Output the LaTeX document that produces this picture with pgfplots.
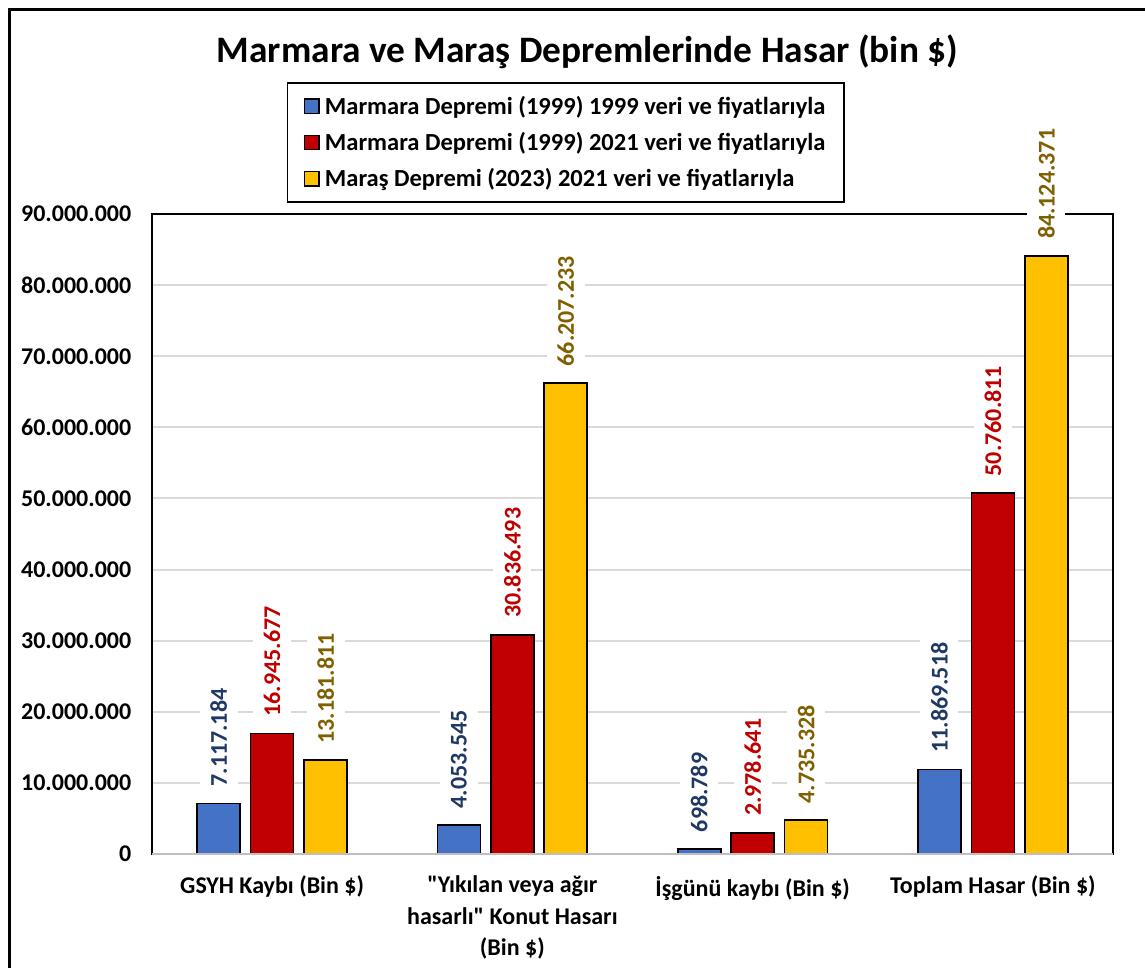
\documentclass[border=0pt]{standalone}
\usepackage{fontspec}
\setmainfont{Carlito}[Ligatures=TeXOff]
\usepackage{pgfplots}
\pgfplotsset{compat=1.18}
\definecolor{cblue}{HTML}{4472C4}
\definecolor{cred}{HTML}{C00000}
\definecolor{cgold}{HTML}{FFC000}
\definecolor{lblue}{HTML}{203864}
\definecolor{lred}{HTML}{C00000}
\definecolor{lgold}{HTML}{7F6000}
\definecolor{gridgray}{HTML}{D9D9D9}
\definecolor{axgray}{HTML}{BFBFBF}
\pgfplotsset{
  vlab/.style={every node near coord/.append style={
    font=\bfseries\fontsize{18}{22}\selectfont, text=#1, fill=white, draw=none,
    yshift=8pt, rotate=90, anchor=west, inner xsep=4pt, inner ysep=8pt}}
}
\begin{document}
\begin{tikzpicture}[x=0.75pt,y=0.75pt]
\path[use as bounding box, fill=white] (0,0) rectangle (1145,967);
\clip (0,0) rectangle (1145,967);
\draw[line width=2.25pt] (9.5,-30) rectangle (1180,957.5);
\node[font=\bfseries\fontsize{28}{34}\selectfont, anchor=base] at (587.5,967-63) {Marmara ve Maraş Depremlerinde Hasar (bin \$)};
\begin{axis}[
  at={(114pt,84.75pt)}, anchor=south west,
  scale only axis, width=720.75pt, height=480pt,
  xmin=-0.5, xmax=3.5, ymin=0, ymax=90000000,
  clip=false, scaled y ticks=false,
  axis line style={black, line width=1.3pt},
  major tick length=0pt,
  ymajorgrids, major grid style={color=gridgray, line width=1.5pt},
  xtick={0,1,2,3},
  xticklabels={{GSYH Kaybı (Bin \$)},{"Yıkılan veya ağır\\hasarlı" Konut Hasarı\\(Bin \$)},{İşgünü kaybı (Bin \$)},{Toplam Hasar (Bin \$)}},
  ytick={0,10000000,20000000,30000000,40000000,50000000,60000000,70000000,80000000,90000000},
  yticklabels={0,10.000.000,20.000.000,30.000.000,40.000.000,50.000.000,60.000.000,70.000.000,80.000.000,90.000.000},
  tick label style={font=\bfseries\fontsize{18}{23.6}\selectfont, text=black},
  xticklabel style={align=center, yshift=-13pt},
  yticklabel style={xshift=-12pt},
  ybar, bar width=32.25pt,
  legend style={at={(0.1405,1.206)}, anchor=north west, draw=black, line width=1.1pt,
    font=\bfseries\fontsize{18.4}{22}\selectfont, row sep=8pt, inner xsep=12pt, inner ysep=8pt,
    /tikz/every odd column/.append style={column sep=2pt}},
  legend cell align=left,
  legend image code/.code={\draw[#1, line width=0.9pt] (0pt,-5.5pt) rectangle (11pt,5.5pt);},
]
\addplot[fill=cblue, draw=black, line width=1.3pt, bar shift=-40.1pt,
  nodes near coords, point meta=explicit symbolic, vlab=lblue] table[meta=lab] {
x y lab
0 7117184 7.117.184
1 4053545 4.053.545
2 698789 698.789
3 11869518 11.869.518
};
\addplot[fill=cred, draw=black, line width=1.3pt, bar shift=0pt,
  nodes near coords, point meta=explicit symbolic, vlab=lred] table[meta=lab] {
x y lab
0 16945677 16.945.677
1 30836493 30.836.493
2 2978641 2.978.641
3 50760811 50.760.811
};
\addplot[fill=cgold, draw=black, line width=1.3pt, bar shift=40.1pt,
  nodes near coords, point meta=explicit symbolic, vlab=lgold] table[meta=lab] {
x y lab
0 13181811 13.181.811
1 66207233 66.207.233
2 4735328 4.735.328
3 84124371 84.124.371
};
\legend{Marmara Depremi (1999) 1999 veri ve fiyatlarıyla, Marmara Depremi (1999) 2021 veri ve fiyatlarıyla, Maraş Depremi (2023) 2021 veri ve fiyatlarıyla}
\draw[axgray, line width=1.5pt] (axis cs:-0.5,0) -- (axis cs:3.5,0);
\end{axis}
\end{tikzpicture}
\end{document}
